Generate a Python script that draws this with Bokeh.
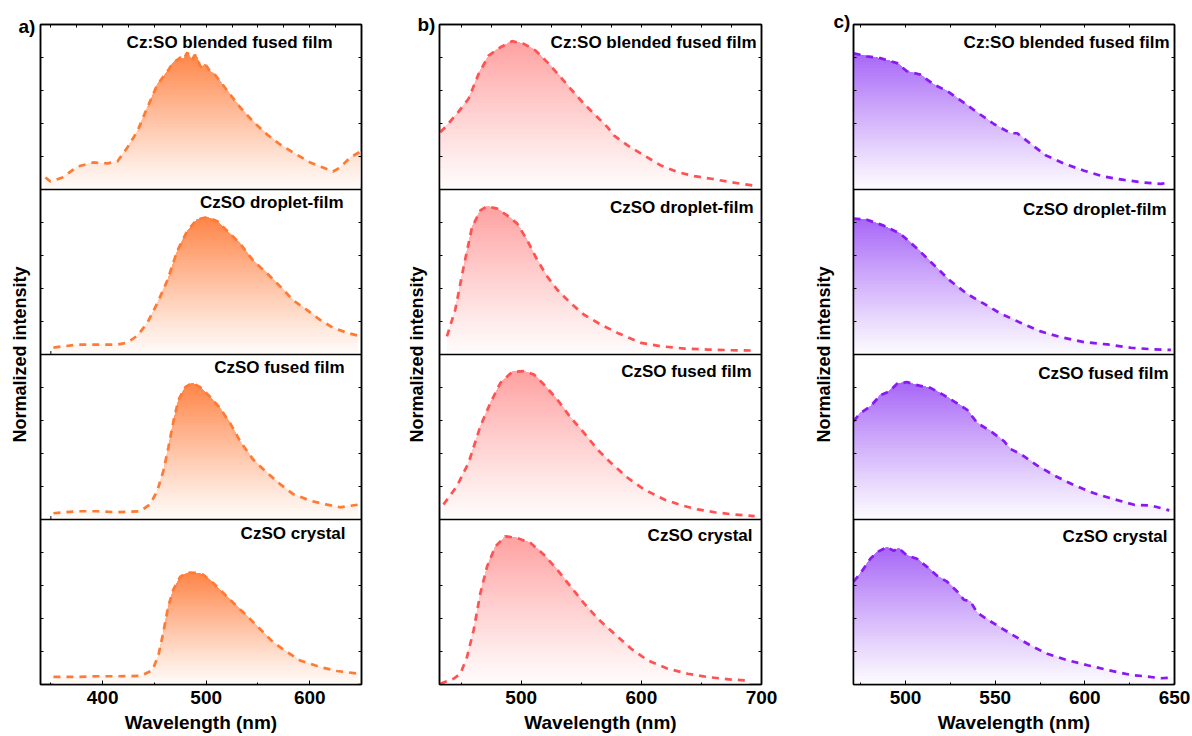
import numpy as np
from bokeh.plotting import figure
from bokeh.models import Span, FixedTicker, LinearAxis, CustomJSTickFormatter
from bokeh.layouts import row
from bokeh.core.properties import value
from bokeh.embed import file_html
from bokeh.resources import INLINE

# ---------------- data ----------------
sample_names = ["Cz:SO blended fused film", "CzSO droplet-film", "CzSO fused film", "CzSO crystal"]
panel_letters = ["a)", "b)", "c)"]
x_label = "Wavelength (nm)"
y_label = "Normalized intensity"

# panel a
a_blend_x = [344.8, 349.6, 361.2, 375.7, 391.1, 404.6, 414.3, 423.9, 433.5, 443.2, 452.8, 462.5, 468.3, 472.0,
             475.0, 478.0, 481.8, 484.5, 486.6, 489.0, 491.4, 494.0, 496.2, 499.0, 503.9, 508.0, 513.6, 523.2,
             532.9, 545.4, 558.9, 571.4, 584.0, 600.4, 612.9, 622.5, 629.3, 639.0, 649.0]
a_blend_y = [0.073, 0.048, 0.073, 0.139, 0.164, 0.158, 0.170, 0.255, 0.352, 0.497, 0.636, 0.715, 0.770, 0.785,
             0.800, 0.790, 0.830, 0.800, 0.788, 0.815, 0.800, 0.750, 0.739, 0.760, 0.715, 0.700, 0.655, 0.576,
             0.497, 0.412, 0.333, 0.273, 0.224, 0.164, 0.133, 0.109, 0.133, 0.194, 0.230]
a_drop_x = [352.5, 375.7, 395.0, 414.3, 423.9, 433.5, 443.2, 452.8, 462.5, 472.1, 481.8, 491.4, 501.0, 510.7,
            520.3, 532.9, 545.4, 558.9, 571.4, 584.0, 597.5, 610.0, 622.5, 636.0, 646.7]
a_drop_y = [0.042, 0.060, 0.060, 0.060, 0.072, 0.114, 0.192, 0.311, 0.449, 0.629, 0.749, 0.820, 0.832, 0.808,
            0.749, 0.671, 0.569, 0.491, 0.413, 0.329, 0.269, 0.210, 0.162, 0.132, 0.114]
a_fused_x = [352.5, 375.7, 395.0, 414.3, 436.4, 446.1, 452.8, 458.6, 463.4, 468.3, 473.1, 479.8, 486.6, 494.3,
             503.9, 513.6, 523.2, 532.9, 545.4, 558.9, 571.4, 584.0, 600.4, 616.8, 629.3, 646.7]
a_fused_y = [0.038, 0.050, 0.050, 0.044, 0.050, 0.094, 0.174, 0.293, 0.433, 0.593, 0.723, 0.802, 0.828, 0.802,
             0.743, 0.673, 0.583, 0.473, 0.363, 0.283, 0.214, 0.154, 0.114, 0.090, 0.074, 0.090]
a_cryst_x = [352.5, 375.7, 395.0, 414.3, 436.4, 448.0, 453.8, 458.6, 463.4, 468.3, 475.0, 482.7, 491.4, 497.2,
             506.8, 516.5, 526.1, 539.6, 552.2, 564.7, 578.2, 590.7, 610.0, 626.4, 646.7]
a_cryst_y = [0.046, 0.046, 0.050, 0.050, 0.052, 0.086, 0.175, 0.316, 0.475, 0.575, 0.654, 0.678, 0.676, 0.665,
             0.615, 0.555, 0.495, 0.415, 0.335, 0.256, 0.196, 0.146, 0.106, 0.082, 0.066]

# panel b
b_blend_x = [432.6, 436.8, 446.5, 456.2, 464.6, 472.9, 482.7, 492.5, 502.2, 511.9, 521.7, 532.8, 541.2, 552.3,
             563.5, 571.8, 577.4, 588.6, 602.4, 616.4, 630.3, 644.2, 658.2, 674.9, 693.0]
b_blend_y = [0.347, 0.378, 0.459, 0.550, 0.701, 0.812, 0.862, 0.899, 0.883, 0.842, 0.772, 0.681, 0.610, 0.519,
             0.438, 0.378, 0.327, 0.267, 0.206, 0.145, 0.105, 0.081, 0.065, 0.044, 0.024]
b_drop_x = [438.2, 445.1, 452.1, 459.1, 466.0, 471.6, 480.0, 488.3, 496.7, 505.0, 513.4, 521.7, 530.1, 541.2,
            552.3, 566.3, 580.2, 599.7, 616.4, 635.8, 655.4, 674.9, 693.0]
b_drop_y = [0.110, 0.271, 0.532, 0.773, 0.873, 0.898, 0.884, 0.843, 0.793, 0.693, 0.572, 0.472, 0.392, 0.311,
            0.241, 0.181, 0.131, 0.070, 0.050, 0.036, 0.030, 0.026, 0.024]
b_fused_x = [435.3, 446.5, 456.2, 466.0, 474.4, 482.7, 492.5, 502.2, 510.5, 518.9, 530.1, 541.2, 552.3, 563.5,
             574.6, 588.6, 602.4, 619.1, 633.1, 647.0, 660.9, 677.6, 694.3]
b_fused_y = [0.091, 0.202, 0.344, 0.565, 0.707, 0.828, 0.895, 0.899, 0.879, 0.818, 0.727, 0.617, 0.525, 0.424,
             0.344, 0.253, 0.182, 0.121, 0.087, 0.061, 0.044, 0.030, 0.020]
b_cryst_x = [432.6, 443.7, 449.3, 454.9, 460.4, 466.0, 471.6, 478.5, 486.9, 496.7, 507.8, 518.9, 530.1, 541.2,
             552.3, 563.5, 577.4, 591.3, 605.3, 622.0, 638.7, 655.4, 674.9, 690.1]
b_cryst_y = [0.004, 0.035, 0.065, 0.166, 0.329, 0.553, 0.715, 0.837, 0.898, 0.888, 0.858, 0.787, 0.695, 0.593,
             0.492, 0.401, 0.309, 0.218, 0.146, 0.096, 0.065, 0.045, 0.030, 0.024]

# panel c
c_blend_x = [471.0, 478.5, 485.9, 495.3, 500.8, 508.3, 515.7, 523.2, 532.5, 540.0, 549.3, 558.6, 562.3, 569.8,
             578.1, 588.4, 599.6, 610.7, 621.9, 633.1, 642.4, 646.2]
c_blend_y = [0.826, 0.807, 0.796, 0.766, 0.717, 0.696, 0.637, 0.597, 0.527, 0.467, 0.397, 0.341, 0.341, 0.277,
             0.208, 0.157, 0.114, 0.078, 0.058, 0.042, 0.034, 0.042]
c_drop_x = [471.0, 478.5, 487.8, 497.1, 506.4, 515.7, 525.0, 534.4, 543.7, 552.9, 564.1, 575.4, 586.6, 599.6,
            612.6, 625.7, 638.7, 648.0]
c_drop_y = [0.824, 0.817, 0.781, 0.732, 0.643, 0.544, 0.446, 0.367, 0.308, 0.249, 0.193, 0.140, 0.105, 0.075,
            0.061, 0.041, 0.031, 0.028]
c_fused_x = [471.0, 474.8, 480.4, 486.0, 490.6, 495.3, 500.8, 506.4, 513.9, 521.3, 528.8, 534.4, 540.0, 547.4,
             554.8, 558.6, 564.1, 573.5, 582.8, 594.0, 605.2, 616.3, 627.5, 636.9, 647.1]
c_fused_y = [0.595, 0.645, 0.685, 0.754, 0.774, 0.823, 0.833, 0.814, 0.798, 0.754, 0.704, 0.665, 0.585, 0.536,
             0.476, 0.427, 0.397, 0.327, 0.268, 0.208, 0.159, 0.123, 0.089, 0.085, 0.055]
c_cryst_x = [471.0, 474.8, 480.4, 484.1, 489.7, 493.4, 496.2, 500.8, 506.4, 512.0, 517.6, 523.2, 528.8, 532.5,
             536.2, 540.0, 545.6, 553.0, 560.4, 569.8, 579.1, 590.3, 601.5, 612.6, 625.7, 635.0, 642.4, 648.9]
c_cryst_y = [0.623, 0.673, 0.762, 0.802, 0.832, 0.811, 0.826, 0.782, 0.762, 0.713, 0.659, 0.623, 0.564, 0.514,
             0.504, 0.435, 0.395, 0.345, 0.296, 0.236, 0.186, 0.147, 0.117, 0.088, 0.058, 0.048, 0.038, 0.042]

a_major_ticks = [400, 500, 600]
b_major_ticks = [500, 600, 700]
c_major_ticks = [500, 550, 600, 650]

# ---------------- layout / style ----------------
FONT = "Liberation Sans"

panels = [
    dict(letter=panel_letters[0], xr=(340, 650), major=a_major_ticks, minor=[350, 450, 550, 650],
         top_ticks=list(range(350, 651, 25)),
         series=[(a_blend_x, a_blend_y), (a_drop_x, a_drop_y), (a_fused_x, a_fused_y), (a_cryst_x, a_cryst_y)],
         line="#FF7A33", fill="#FF8447",
         width=400, bl=40, br=39, bt=20, bb=50, ylab_standoff=11,
         txt_gap=[29, 18, 17, 16], txt_dy=[18, 13, 13, 14], letter_off=-22, letter_standoff=-25),
    dict(letter=panel_letters[1], xr=(432, 700), major=b_major_ticks, minor=[450, 550, 650],
         top_ticks=list(range(450, 701, 25)),
         series=[(b_blend_x, b_blend_y), (b_drop_x, b_drop_y), (b_fused_x, b_fused_y), (b_cryst_x, b_cryst_y)],
         line="#FF5252", fill="#FFA1A1",
         width=400, bl=39, br=39, bt=24, bb=52, ylab_standoff=13,
         txt_gap=[5, 8, 10, 9], txt_dy=[18, 18, 17, 16], letter_off=-22, letter_standoff=-21),
    dict(letter=panel_letters[2], xr=(471, 650), major=c_major_ticks, minor=[475, 525, 575, 625],
         top_ticks=list(range(475, 651, 25)),
         series=[(c_blend_x, c_blend_y), (c_drop_x, c_drop_y), (c_fused_x, c_fused_y), (c_cryst_x, c_cryst_y)],
         line="#8A18F2", fill="#A766F7",
         width=392, bl=53, br=18, bt=16, bb=48, ylab_standoff=20,
         txt_gap=[5, 8, 6, 7], txt_dy=[18, 20, 19, 17], letter_off=-20, letter_standoff=-14),
]

H = 736
NB = 48
TICK = 3.5
BLANK = "return ''"


def hex_rgb(h):
    h = h.lstrip("#")
    return tuple(int(h[i:i + 2], 16) for i in (0, 2, 4))


def mix(rgb, f):
    r, g, b = [int(round(255 + (c - 255) * f)) for c in rgb]
    return "#%02x%02x%02x" % (r, g, b)


figs = []
for P in panels:
    x0, x1 = P["xr"]
    p = figure(width=P["width"], height=H, x_range=(x0, x1), y_range=(0, 4),
               output_backend="svg", toolbar_location=None,
               min_border_left=P["bl"], min_border_right=P["br"],
               min_border_top=P["bt"], min_border_bottom=P["bb"])
    p.grid.visible = False
    p.background_fill_color = "white"
    p.border_fill_color = "white"
    p.outline_line_color = "black"
    p.outline_line_width = 1.5
    p.outline_line_alpha = 1

    frame_w = P["width"] - P["bl"] - P["br"]
    frame_h = H - P["bt"] - P["bb"]
    sx = frame_w / (x1 - x0)
    sy = frame_h / 4.0

    # x axis (bottom)
    xa = p.xaxis[0]
    xa.ticker = FixedTicker(ticks=P["major"], minor_ticks=P["minor"])
    xa.major_tick_in = 4
    xa.major_tick_out = 0
    xa.minor_tick_in = 2
    xa.minor_tick_out = 0
    xa.axis_line_width = 1.5
    xa.major_label_text_font = FONT
    xa.major_label_text_font_style = "bold"
    xa.major_label_text_font_size = "19px"
    xa.major_label_text_color = "black"
    xa.major_label_standoff = 6
    xa.axis_label = x_label
    xa.axis_label_text_font = FONT
    xa.axis_label_text_font_style = "bold"
    xa.axis_label_text_font_size = "19px"
    xa.axis_label_text_color = "black"
    xa.axis_label_standoff = 5

    # y axis (left): inner ticks, blank tick labels, axis title
    yt = [i + f for i in range(4) for f in (0.2, 0.4, 0.6, 0.8)]
    ya = p.yaxis[0]
    ya.ticker = FixedTicker(ticks=yt, minor_ticks=[])
    ya.formatter = CustomJSTickFormatter(code=BLANK)
    ya.major_tick_in = 3
    ya.major_tick_out = 0
    ya.major_label_standoff = 0
    ya.axis_line_width = 1.5
    ya.axis_label = y_label
    ya.axis_label_text_font = FONT
    ya.axis_label_text_font_style = "bold"
    ya.axis_label_text_font_size = "18px"
    ya.axis_label_text_color = "black"
    ya.axis_label_standoff = P["ylab_standoff"]

    # top and right axes with inner ticks only
    top = LinearAxis(ticker=FixedTicker(ticks=P["top_ticks"], minor_ticks=[]),
                     formatter=CustomJSTickFormatter(code=BLANK),
                     major_tick_in=3, major_tick_out=0,
                     major_label_standoff=0, axis_line_width=1.5)
    p.add_layout(top, "above")
    right = LinearAxis(ticker=FixedTicker(ticks=yt, minor_ticks=[]),
                       formatter=CustomJSTickFormatter(code=BLANK),
                       major_tick_in=3, major_tick_out=0,
                       major_label_standoff=0, axis_line_width=1.5)
    p.add_layout(right, "right")

    # small inner ticks along the separators between stacked spectra
    tt_ = P["top_ticks"]
    for lev in (1, 2, 3):
        m = len(tt_)
        p.segment(x0=tt_, y0=[lev] * m, x1=tt_, y1=[lev + TICK / sy] * m,
                  line_color="black", line_width=1)

    top_rgb = hex_rgb(P["fill"])
    tx, ty, tt = [], [], []
    for i, (xs, ys) in enumerate(P["series"]):
        off = 3 - i
        xs = np.asarray(xs, dtype=float)
        ys = np.asarray(ys, dtype=float)
        ymax = ys.max()
        levels = np.linspace(0, ymax, NB + 1)
        for k in range(NB):
            f = 0.03 + 0.97 * ((k + 0.5) / NB) ** 1.1
            p.varea(x=xs, y1=off + np.minimum(ys, levels[k]), y2=off + ys,
                    fill_color=mix(top_rgb, f), fill_alpha=1.0)
        p.line(xs, off + ys, line_color=P["line"], line_width=2.7, line_dash="7 6")
        if i > 0:
            p.add_layout(Span(location=off + 1, dimension="width", line_color="black", line_width=1.5))
        tx.append(x1 - P["txt_gap"][i] / sx)
        ty.append(off + 1 - P["txt_dy"][i] / sy)
        tt.append(sample_names[i])

    p.text(x=tx, y=ty, text=tt, text_font=value(FONT), text_font_style="bold",
           text_font_size="17px", text_align="right", text_baseline="middle", text_color="black")

    # panel letter as a left-aligned title pulled down beside the frame corner
    p.title.text = P["letter"]
    p.title.align = "left"
    p.title.offset = P["letter_off"]
    p.title.standoff = P["letter_standoff"]
    p.title.text_font = FONT
    p.title.text_font_style = "bold"
    p.title.text_font_size = "19px"
    p.title.text_color = "black"
    figs.append(p)

layout = row(*figs, spacing=0)
open("out.html", "w").write(file_html(layout, INLINE))
